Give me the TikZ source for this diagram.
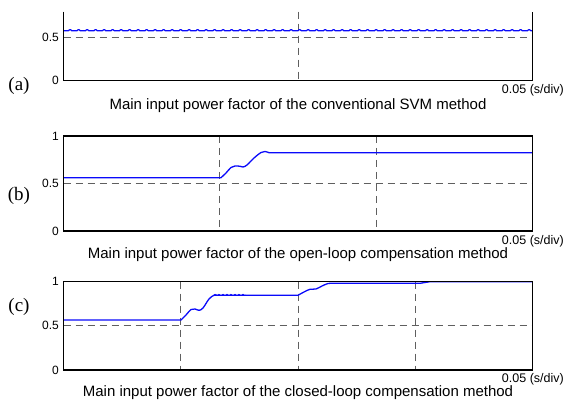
\documentclass[tikz,border=0pt]{standalone}
\usepackage{fontspec}
\setmainfont{Liberation Sans}
\newfontfamily\panelfont{Liberation Serif}
\usepackage{tikz}
\usetikzlibrary{positioning}
\definecolor{traceblue}{RGB}{10,10,250}
\definecolor{griddark}{RGB}{95,95,95}

\begin{document}
\begin{tikzpicture}[
  x=1pt, y=-1pt,
  axisbox/.style={line width=1.3pt, black},
  griddash/.style={line width=0.9pt, griddark, dash pattern=on 7pt off 5pt},
  trace/.style={line width=1.3pt, traceblue, line join=round},
  ticklabel/.style={font=\fontsize{12}{14}\selectfont, anchor=east, inner sep=1pt},
  divlabel/.style={font=\fontsize{12.5}{14}\selectfont, anchor=east, inner sep=0pt},
  caption/.style={font=\fontsize{15}{18}\selectfont, inner sep=0pt},
  panellabel/.style={font=\panelfont\fontsize{19}{22}\selectfont, inner sep=0pt}
]
\useasboundingbox (0,0) rectangle (565,406);

% Panel (a)
\coordinate (aTL) at (63.5,11.7);
\coordinate (aBL) at (63.5,80.7);
\coordinate (aBR) at (532.7,80.7);
\coordinate (aTR) at (532.7,11.7);
\draw[griddash] (63.5,37) -- (532.7,37);
\draw[griddash] (298,11.7) -- (298,80.7);
\draw[trace] plot[domain=63.5:532.7, samples=900] (\x,{30.8-1.1*max(0,sin(42.35*mod(\x,8.5))-0.3)/0.7});
\draw[axisbox] (aTL) -- (aBL) -- (aBR) -- (aTR);
\node[ticklabel] (ta5) at (60,37) {0.5};
\node[ticklabel] (ta0) at (60,80.7) {0};
\node[panellabel] (pa) at (19,86) {(a)};
\node[divlabel] (da) at (564,90) {0.05 (s/div)};
\node[caption] (ca) at (298,106) {Main input power factor of the conventional SVM method};

% Panel (b)
\coordinate (bTL) at (63.5,136);
\coordinate (bBR) at (532.7,231);
\draw[griddash] (63.5,183.5) -- (532.7,183.5);
\draw[griddash] (219.9,136) -- (219.9,231);
\draw[griddash] (376.3,136) -- (376.3,231);
\draw[trace] (63.5,177.7) -- (221,177.7)
  -- plot[smooth, tension=0.6] coordinates {(221,177.7) (226,173) (231,167.5) (235,166) (240,166.3) (243,167) (247,165) (254,158) (261,152.5) (265,151.5) (269,152.7)}
  -- (532.7,152.7);
\draw[axisbox] (bTL) rectangle (bBR);
\node[ticklabel] (tb1) at (60,136) {1};
\node[ticklabel] (tb5) at (60,183.5) {0.5};
\node[ticklabel] (tb0) at (60,231) {0};
\node[panellabel] (pb) at (19,196) {(b)};
\node[divlabel] (db) at (564,241) {0.05 (s/div)};
\node[caption] (cb) at (298,255) {Main input power factor of the open-loop compensation method};

% Panel (c)
\coordinate (cTL) at (63.5,281.5);
\coordinate (cBR) at (532.7,370);
\draw[griddash] (63.5,325.5) -- (532.7,325.5);
\foreach \gx in {180.8,298,415.4}
  \draw[griddash] (\gx,281.5) -- (\gx,370);
\draw[trace] (63.5,320) -- (181,320)
  -- plot[smooth, tension=0.6] coordinates {(181,320) (186,315) (191,309.5) (195,309) (199,310.3) (203,308) (209,299) (214,295.3) (218,295.3)}
  -- (298,295.3)
  -- plot[smooth, tension=0.6] coordinates {(298,295.3) (304,292) (310,289.3) (316,289) (322,286) (328,283.5) (333,283.3)}
  -- (420,283.3)
  -- plot[smooth, tension=0.6] coordinates {(420,283.3) (425,282.5) (430,281.7)}
  -- (532.7,281.7);
\draw[trace, line width=0.8pt] plot[domain=214:246, samples=60] (\x,{295.3-1.0*max(0,sin(90*(\x-214)))});
\draw[axisbox] (cTL) rectangle (cBR);
\node[ticklabel] (tc1) at (60,281.5) {1};
\node[ticklabel] (tc5) at (60,325.5) {0.5};
\node[ticklabel] (tc0) at (60,370) {0};
\node[panellabel] (pc) at (19,307) {(c)};
\node[divlabel] (dc) at (564,379) {0.05 (s/div)};
\node[caption] (cc) at (298,393) {Main input power factor of the closed-loop compensation method};

\end{tikzpicture}
\end{document}
